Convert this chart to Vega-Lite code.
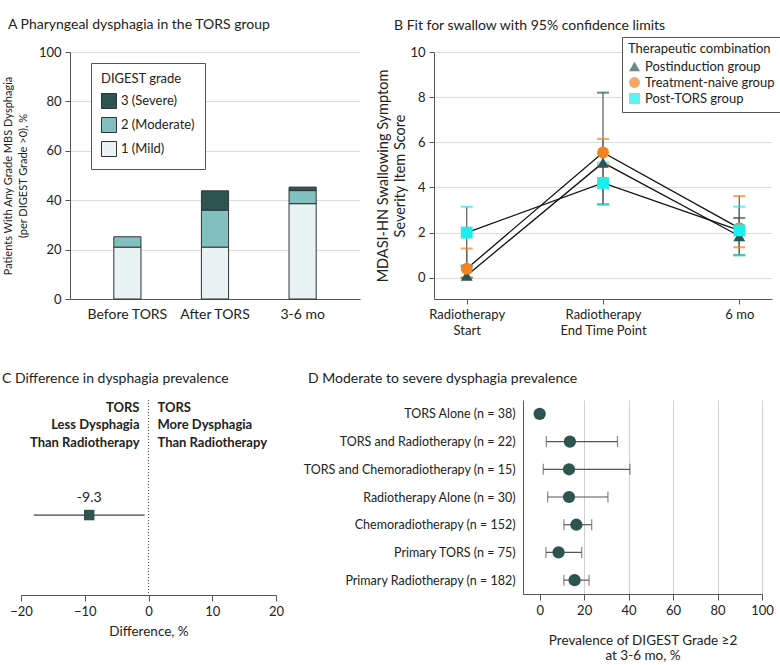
{
  "$schema": "https://vega.github.io/schema/vega-lite/v6.json",
  "padding": {"left": 2, "top": 18, "right": 0, "bottom": 0},
  "config": {
    "font": "Lato",
    "view": {"stroke": null},
    "axis": {"labelFontSize": 13, "titleFontSize": 13, "titleFontWeight": "normal", "labelColor": "#222", "titleColor": "#222", "domainColor": "#555", "tickColor": "#555", "gridColor": "#dcdcdc", "labelPadding": 4, "labelFlush": false},
    "title": {"anchor": "start", "frame": "group", "fontSize": 14, "fontWeight": "normal", "color": "#222", "offset": 14},
    "legend": {"labelFontSize": 13, "titleFontSize": 13, "titleFontWeight": "normal", "labelColor": "#222", "titleColor": "#222"}
  },
  "datasets": {
    "bars": [
      {"time": "Before TORS", "grade": "1 (Mild)", "gradeNum": 1, "pct": 21.0},
      {"time": "Before TORS", "grade": "2 (Moderate)", "gradeNum": 2, "pct": 4.2},
      {"time": "After TORS", "grade": "1 (Mild)", "gradeNum": 1, "pct": 21.0},
      {"time": "After TORS", "grade": "2 (Moderate)", "gradeNum": 2, "pct": 15.0},
      {"time": "After TORS", "grade": "3 (Severe)", "gradeNum": 3, "pct": 7.8},
      {"time": "3-6 mo", "grade": "1 (Mild)", "gradeNum": 1, "pct": 38.6},
      {"time": "3-6 mo", "grade": "2 (Moderate)", "gradeNum": 2, "pct": 5.3},
      {"time": "3-6 mo", "grade": "3 (Severe)", "gradeNum": 3, "pct": 1.4}
    ],
    "swallow": [
      {"group": "Postinduction group", "time": "Radiotherapy Start", "mean": 0.1, "lo": 0.0, "hi": 0.5},
      {"group": "Postinduction group", "time": "Radiotherapy End Time Point", "mean": 5.1, "lo": 3.25, "hi": 8.2},
      {"group": "Postinduction group", "time": "6 mo", "mean": 1.85, "lo": 1.0, "hi": 2.65},
      {"group": "Treatment-naive group", "time": "Radiotherapy Start", "mean": 0.4, "lo": 0.0, "hi": 1.3},
      {"group": "Treatment-naive group", "time": "Radiotherapy End Time Point", "mean": 5.55, "lo": 5.0, "hi": 6.15},
      {"group": "Treatment-naive group", "time": "6 mo", "mean": 2.2, "lo": 1.35, "hi": 3.62},
      {"group": "Post-TORS group", "time": "Radiotherapy Start", "mean": 2.0, "lo": 0.55, "hi": 3.15},
      {"group": "Post-TORS group", "time": "Radiotherapy End Time Point", "mean": 4.2, "lo": 3.25, "hi": 5.1},
      {"group": "Post-TORS group", "time": "6 mo", "mean": 2.1, "lo": 1.0, "hi": 3.15}
    ],
    "diff": [
      {"est": -9.3, "lo": -18.0, "hi": -0.6, "y": 4.1, "labelY": 5.0, "label": "-9.3"}
    ],
    "notes": [
      {"side": "left", "text": "TORS", "y": 9.6},
      {"side": "left", "text": "Less Dysphagia", "y": 8.7},
      {"side": "left", "text": "Than Radiotherapy", "y": 7.8},
      {"side": "right", "text": "TORS", "y": 9.6},
      {"side": "right", "text": "More Dysphagia", "y": 8.7},
      {"side": "right", "text": "Than Radiotherapy", "y": 7.8}
    ],
    "prev": [
      {"label": "TORS Alone (n = 38)", "est": 0.0, "lo": null, "hi": null},
      {"label": "TORS and Radiotherapy (n = 22)", "est": 13.6, "lo": 3.0, "hi": 35.0},
      {"label": "TORS and Chemoradiotherapy (n = 15)", "est": 13.2, "lo": 1.6, "hi": 40.6},
      {"label": "Radiotherapy Alone (n = 30)", "est": 13.2, "lo": 3.6, "hi": 30.7},
      {"label": "Chemoradiotherapy (n = 152)", "est": 16.5, "lo": 10.9, "hi": 23.4},
      {"label": "Primary TORS (n = 75)", "est": 8.5, "lo": 2.8, "hi": 18.9},
      {"label": "Primary Radiotherapy (n = 182)", "est": 15.7, "lo": 10.9, "hi": 22.2}
    ]
  },
  "spacing": 34,
  "resolve": {"scale": {"color": "independent", "shape": "independent"}, "legend": {"color": "independent", "shape": "independent"}},
  "vconcat": [
    {
      "spacing": -20,
      "resolve": {"scale": {"color": "independent", "shape": "independent"}, "legend": {"color": "independent", "shape": "independent"}},
      "hconcat": [
        {
          "width": 1,
          "height": 247,
          "data": {"values": [{"blank": " "}]},
          "mark": {"type": "text"},
          "encoding": {"text": {"field": "blank"}}
        },
        {
          "spacing": 15,
          "resolve": {"scale": {"color": "independent", "shape": "independent"}, "legend": {"color": "independent", "shape": "independent"}},
          "hconcat": [
            {
              "title": {"text": "A      Pharyngeal dysphagia in the TORS group", "dx": -62},
              "width": 290,
              "height": 247,
              "data": {"name": "bars"},
              "mark": {"type": "bar", "stroke": "#333", "strokeWidth": 1},
              "encoding": {
                "x": {"field": "time", "type": "nominal", "sort": ["Before TORS", "After TORS", "3-6 mo"], "scale": {"paddingInner": 0.69, "paddingOuter": 0.5}, "axis": {"title": null, "labelAngle": 0, "ticks": false, "labelPadding": 8, "labelFontSize": 14}},
                "y": {"field": "pct", "type": "quantitative", "stack": "zero", "scale": {"domain": [0, 100], "nice": false}, "axis": {"values": [0, 20, 40, 60, 80, 100], "title": ["Patients With Any Grade MBS Dysphagia", "(per DIGEST Grade >0), %"], "titleFontSize": 11, "titleLineHeight": 15, "grid": true, "titlePadding": 10}},
                "color": {"field": "grade", "type": "nominal", "scale": {"domain": ["3 (Severe)", "2 (Moderate)", "1 (Mild)"], "range": ["#2d5451", "#80c1bf", "#e9f3f4"]}, "legend": {"orient": "none", "legendX": 21, "legendY": 11, "title": "DIGEST grade", "strokeColor": "#555", "fillColor": "white", "padding": 10, "symbolType": "square", "symbolSize": 225, "symbolStrokeColor": "#333", "symbolStrokeWidth": 1, "symbolOpacity": 1, "rowPadding": 4, "titlePadding": 7}},
                "order": {"field": "gradeNum", "type": "quantitative"}
              }
            },
            {
              "title": {"text": "B      Fit for swallow with 95% confidence limits", "dx": -40, "dy": 10},
              "width": 338,
              "height": 247,
              "data": {"name": "swallow"},
              "encoding": {
                "x": {"field": "time", "type": "ordinal", "sort": ["Radiotherapy Start", "Radiotherapy End Time Point", "6 mo"], "scale": {"type": "point", "padding": 0.24}, "axis": {"title": null, "labelAngle": 0, "labelExpr": "datum.label == '6 mo' ? '6 mo' : ['Radiotherapy', slice(datum.label, 13)]", "labelLineHeight": 16}}
              },
              "layer": [
                {
                  "mark": {"type": "line", "color": "#111", "strokeWidth": 1.3},
                  "encoding": {
                    "y": {"field": "mean", "type": "quantitative", "scale": {"domain": [-0.94, 10], "nice": false, "zero": false}, "axis": {"values": [0, 2, 4, 6, 8, 10], "grid": true, "title": ["MDASI-HN Swallowing Symptom", "Severity Item Score"], "titleFontSize": 14.5, "titleLineHeight": 17, "titlePadding": 2}},
                    "detail": {"field": "group"}
                  }
                },
                {
                  "mark": {"type": "rule", "color": "#666", "strokeWidth": 1.3},
                  "encoding": {
                    "y": {"field": "lo", "type": "quantitative"},
                    "y2": {"field": "hi"}
                  }
                },
                {
                  "mark": {"type": "tick", "thickness": 2, "size": 12},
                  "encoding": {
                    "y": {"field": "lo", "type": "quantitative"},
                    "color": {"field": "group", "type": "nominal", "title": "Therapeutic combination"}
                  }
                },
                {
                  "mark": {"type": "tick", "thickness": 2, "size": 12},
                  "encoding": {
                    "y": {"field": "hi", "type": "quantitative"},
                    "color": {"field": "group", "type": "nominal", "title": "Therapeutic combination"}
                  }
                },
                {
                  "mark": {"type": "point", "filled": true, "opacity": 1, "size": 140},
                  "encoding": {
                    "y": {"field": "mean", "type": "quantitative"},
                    "color": {"field": "group", "type": "nominal", "title": "Therapeutic combination", "scale": {"domain": ["Postinduction group", "Treatment-naive group", "Post-TORS group"], "range": ["#2d5451", "#f58220", "#1aeeee"]}, "legend": {"orient": "none", "legendX": 188, "legendY": -15, "strokeColor": "#555", "fillColor": "white", "padding": 6, "rowPadding": 2, "symbolSize": 120, "titlePadding": 4}},
                    "shape": {"field": "group", "type": "nominal", "title": "Therapeutic combination", "scale": {"domain": ["Postinduction group", "Treatment-naive group", "Post-TORS group"], "range": ["triangle-up", "circle", "square"]}}
                  }
                }
              ]
            }
          ]
        }
      ]
    },
    {
      "spacing": 18,
      "hconcat": [
        {
          "title": {"text": "C      Difference in dysphagia prevalence", "dx": -19},
          "width": 255,
          "height": 195,
          "layer": [
            {
              "data": {"values": [{"zero": 0}]},
              "mark": {"type": "rule", "color": "#444", "strokeDash": [1, 2], "strokeWidth": 1},
              "encoding": {
                "x": {"field": "zero", "type": "quantitative", "scale": {"domain": [-20, 20], "nice": false}, "axis": {"values": [-20, -10, 0, 10, 20], "title": "Difference, %", "titleFontSize": 13.5, "grid": false, "tickSize": 6, "titlePadding": 6}}
              }
            },
            {
              "data": {"name": "diff"},
              "mark": {"type": "rule", "color": "#444", "strokeWidth": 1.2},
              "encoding": {
                "x": {"field": "lo", "type": "quantitative"},
                "x2": {"field": "hi"},
                "y": {"field": "y", "type": "quantitative", "scale": {"domain": [0, 10], "nice": false}, "axis": null}
              }
            },
            {
              "data": {"name": "diff"},
              "mark": {"type": "square", "color": "#2d5451", "opacity": 1, "size": 110},
              "encoding": {
                "x": {"field": "est", "type": "quantitative"},
                "y": {"field": "y", "type": "quantitative"}
              }
            },
            {
              "data": {"name": "diff"},
              "mark": {"type": "text", "fontSize": 14, "color": "#222"},
              "encoding": {
                "x": {"field": "est", "type": "quantitative"},
                "y": {"field": "labelY", "type": "quantitative"},
                "text": {"field": "label"}
              }
            },
            {
              "data": {"name": "notes"},
              "transform": [{"filter": "datum.side == 'left'"}],
              "mark": {"type": "text", "align": "right", "dx": -9, "fontSize": 13, "fontWeight": "bold", "color": "#222"},
              "encoding": {
                "x": {"datum": 0, "type": "quantitative"},
                "y": {"field": "y", "type": "quantitative"},
                "text": {"field": "text"}
              }
            },
            {
              "data": {"name": "notes"},
              "transform": [{"filter": "datum.side == 'right'"}],
              "mark": {"type": "text", "align": "left", "dx": 9, "fontSize": 13, "fontWeight": "bold", "color": "#222"},
              "encoding": {
                "x": {"datum": 0, "type": "quantitative"},
                "y": {"field": "y", "type": "quantitative"},
                "text": {"field": "text"}
              }
            }
          ]
        },
        {
          "title": {"text": "D      Moderate to severe dysphagia prevalence", "dx": -215},
          "width": 239,
          "height": 194,
          "data": {"name": "prev"},
          "encoding": {
            "y": {"field": "label", "type": "nominal", "sort": ["TORS Alone (n = 38)", "TORS and Radiotherapy (n = 22)", "TORS and Chemoradiotherapy (n = 15)", "Radiotherapy Alone (n = 30)", "Chemoradiotherapy (n = 152)", "Primary TORS (n = 75)", "Primary Radiotherapy (n = 182)"], "scale": {"type": "point", "padding": 0.5}, "axis": {"title": null, "ticks": false, "labelPadding": 8, "grid": false, "labelLimit": 400, "labelFontSize": 12.5}}
          },
          "layer": [
            {
              "mark": {"type": "rule", "color": "#555", "strokeWidth": 1.2},
              "encoding": {
                "x": {"field": "lo", "type": "quantitative", "scale": {"domain": [-7.5, 100], "nice": false, "zero": false}, "axis": {"values": [0, 20, 40, 60, 80, 100], "grid": true, "gridColor": "#cfcfcf", "gridOpacity": {"condition": {"test": "datum.value == 0", "value": 0}, "value": 1}, "tickSize": 6, "title": ["Prevalence of DIGEST Grade ≥2", "at 3-6 mo, %"], "titleFontSize": 13.5, "titlePadding": 16}},
                "x2": {"field": "hi"}
              }
            },
            {
              "mark": {"type": "tick", "orient": "vertical", "thickness": 1.2, "size": 11, "color": "#555"},
              "encoding": {"x": {"field": "lo", "type": "quantitative"}}
            },
            {
              "mark": {"type": "tick", "orient": "vertical", "thickness": 1.2, "size": 11, "color": "#555"},
              "encoding": {"x": {"field": "hi", "type": "quantitative"}}
            },
            {
              "mark": {"type": "circle", "color": "#2d5451", "opacity": 1, "size": 150},
              "encoding": {"x": {"field": "est", "type": "quantitative"}}
            }
          ]
        }
      ]
    }
  ]
}
